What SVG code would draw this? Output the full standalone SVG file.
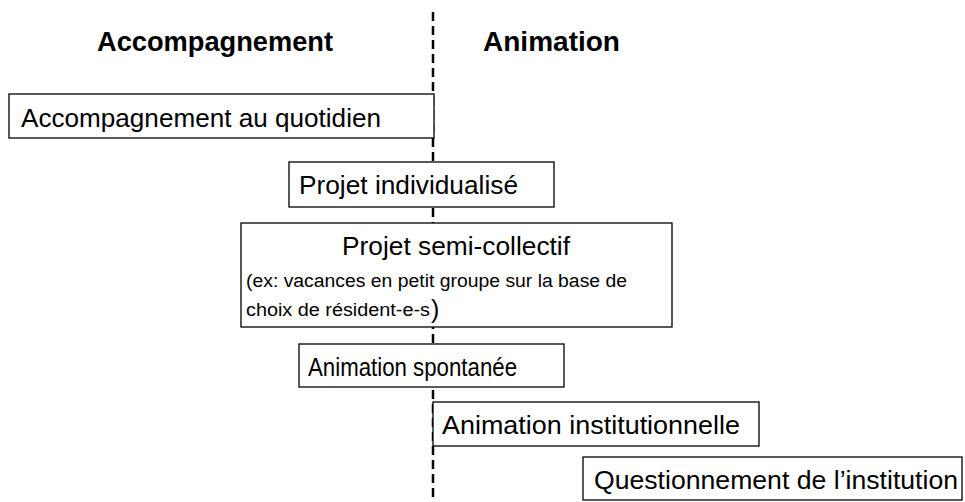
<svg xmlns="http://www.w3.org/2000/svg" width="965" height="502" viewBox="0 0 965 502">
<style>
.box{fill:#fff;stroke:#000;stroke-width:1.3}
.t{font-family:"Liberation Sans",Arial,sans-serif;font-size:25px;fill:#000}
.s{font-family:"Liberation Sans",Arial,sans-serif;font-size:18px;fill:#000}
.h{font-family:"Liberation Sans",Arial,sans-serif;font-size:28px;font-weight:bold;fill:#000}
.dash{stroke:#000;stroke-width:2.5;stroke-dasharray:9 5;fill:none}
</style>
<rect width="965" height="502" fill="#fff"/>
<g id="connectors">
<line class="dash" x1="433" y1="12" x2="433" y2="502"/>
</g>
<g id="heading-accompagnement"><text class="h" x="97" y="51" textLength="236" lengthAdjust="spacingAndGlyphs">Accompagnement</text></g>
<g id="heading-animation"><text class="h" x="483" y="51" textLength="137" lengthAdjust="spacingAndGlyphs">Animation</text></g>
<g id="n1"><rect class="box" x="9" y="94" width="425" height="44"/>
<text class="t" x="21" y="127" textLength="360" lengthAdjust="spacingAndGlyphs">Accompagnement au quotidien</text></g>
<g id="n2"><rect class="box" x="289" y="162" width="265" height="45"/>
<text class="t" x="299" y="194" textLength="219" lengthAdjust="spacingAndGlyphs">Projet individualisé</text></g>
<g id="n3"><rect class="box" x="241" y="223" width="431" height="104"/>
<text class="t" x="342" y="255" textLength="228" lengthAdjust="spacingAndGlyphs">Projet semi-collectif</text>
<text class="s" x="246" y="287" textLength="381" lengthAdjust="spacingAndGlyphs">(ex: vacances en petit groupe sur la base de</text>
<text class="s" x="246" y="316" textLength="184" lengthAdjust="spacingAndGlyphs">choix de résident-e-s</text>
<text class="t" x="431" y="318">)</text></g>
<g id="n4"><rect class="box" x="299" y="344" width="265" height="43"/>
<text class="t" x="308" y="376" textLength="209" lengthAdjust="spacingAndGlyphs">Animation spontanée</text></g>
<g id="n5"><rect class="box" x="433" y="402" width="326" height="44"/>
<text class="t" x="442" y="434" textLength="298" lengthAdjust="spacingAndGlyphs">Animation institutionnelle</text></g>
<g id="n6"><rect class="box" x="583" y="457" width="379" height="43"/>
<text class="t" x="594" y="489" textLength="364" lengthAdjust="spacingAndGlyphs">Questionnement de l’institution</text></g>
</svg>
